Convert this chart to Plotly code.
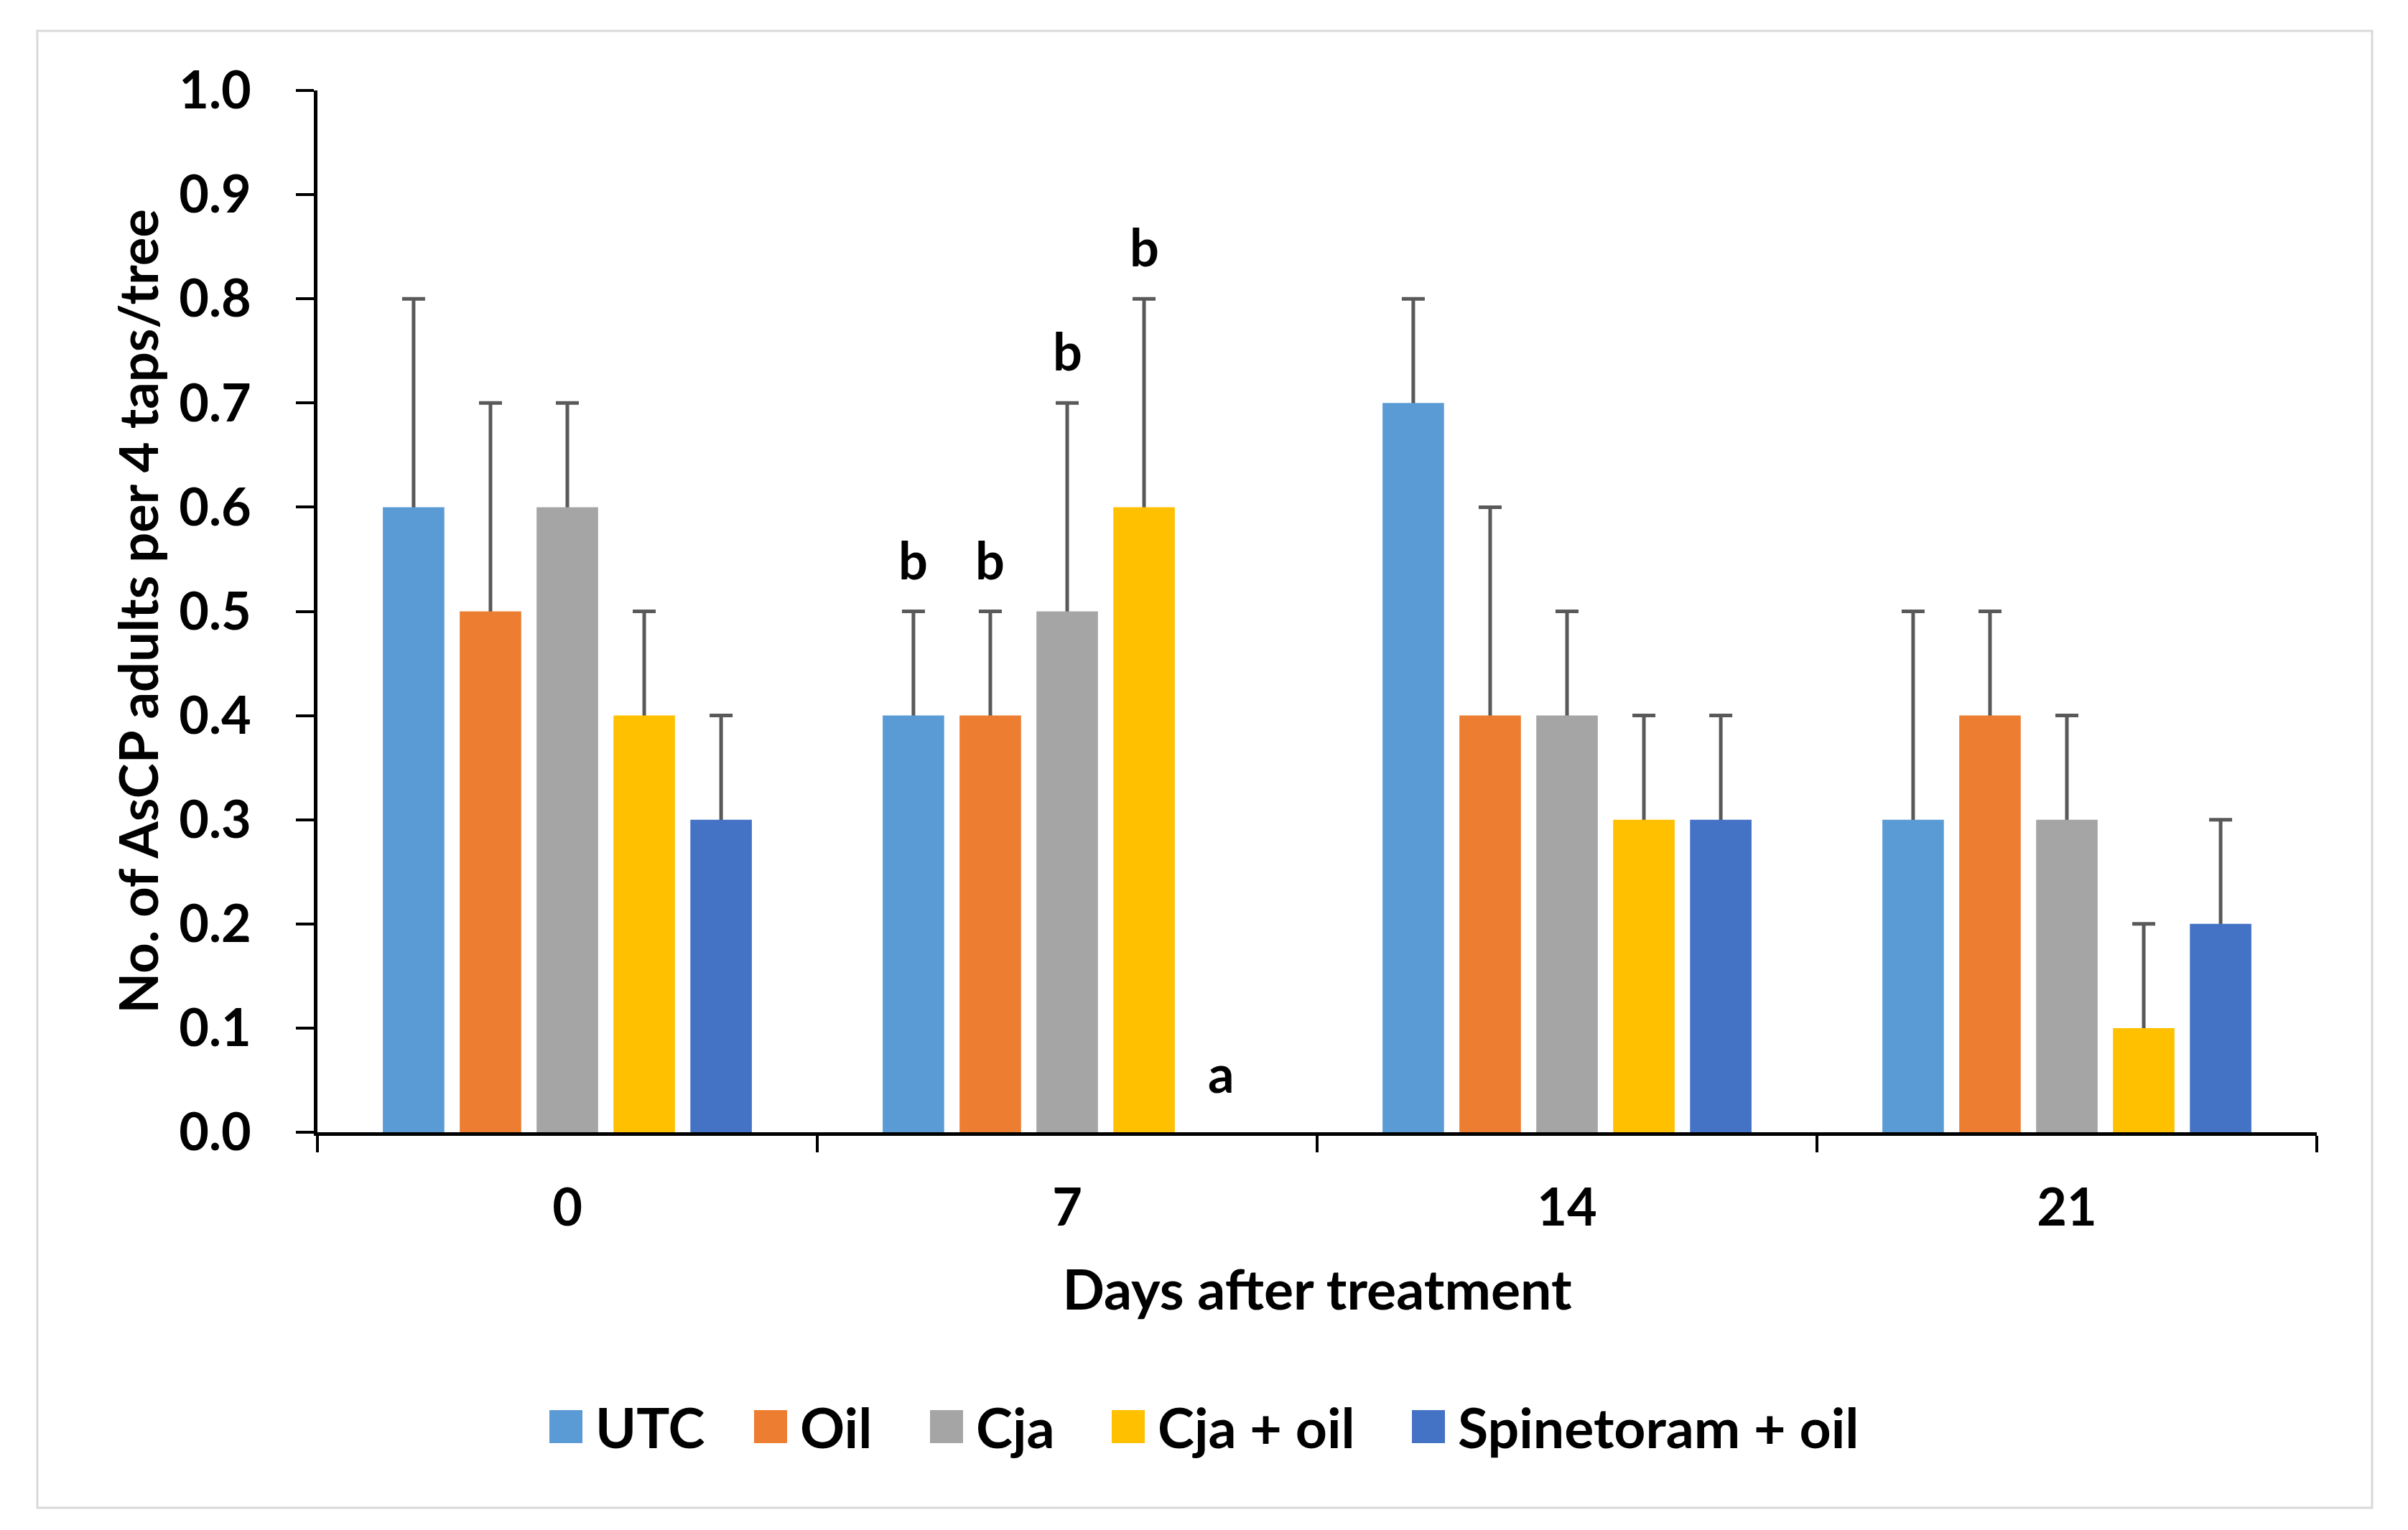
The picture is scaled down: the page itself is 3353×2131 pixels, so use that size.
import plotly.graph_objects as go

# ---------------- data ----------------
days = ["0", "7", "14", "21"]
series_names = ["UTC", "Oil", "Cja", "Cja + oil", "Spinetoram + oil"]

utc = [0.6, 0.4, 0.7, 0.3]
oil = [0.5, 0.4, 0.4, 0.4]
cja = [0.6, 0.5, 0.4, 0.3]
cja_oil = [0.4, 0.6, 0.3, 0.1]
spin_oil = [0.3, 0.0, 0.3, 0.2]

utc_err = [0.2, 0.1, 0.1, 0.2]
oil_err = [0.2, 0.1, 0.2, 0.1]
cja_err = [0.1, 0.2, 0.1, 0.1]
cja_oil_err = [0.1, 0.2, 0.1, 0.1]
spin_oil_err = [0.1, None, 0.1, 0.1]

utc_letters = ["", "b", "", ""]
oil_letters = ["", "b", "", ""]
cja_letters = ["", "b", "", ""]
cja_oil_letters = ["", "b", "", ""]
spin_oil_letters = ["", "a", "", ""]

y_tick_values = [0.0, 0.1, 0.2, 0.3, 0.4, 0.5, 0.6, 0.7, 0.8, 0.9, 1.0]

# ---------------- style ----------------
colors = ["#5B9BD5", "#ED7D31", "#A5A5A5", "#FFC000", "#4472C4"]
ERR_COLOR = "#595959"
FONT = "Lato"
FS = 72        # tick labels / letters
FS_T = 77      # x title / legend
FS_Y = 74      # y title
OFF = 8        # default page body margin
W, H = 3353 - 2 * OFF, 2131 - 2 * OFF
ML, MR, MT, MB = 442 - OFF, 127 - OFF, 126 - OFF, 554 - OFF
PW = W - ML - MR
PH = H - MT - MB
BARGAP = 0.231

values = [utc, oil, cja, cja_oil, spin_oil]
errors = [utc_err, oil_err, cja_err, cja_oil_err, spin_oil_err]
letters = [utc_letters, oil_letters, cja_letters, cja_oil_letters, spin_oil_letters]


def pxx(px):
    # page pixel -> paper x
    return (px - OFF - ML) / PW


def pxy(py):
    # page pixel -> paper y
    return (H - MB - (py - OFF)) / PH


fig = go.Figure()

# error-bar carrier traces (drawn first so that the visible bars cover the lower part)
for i, (vals, errs) in enumerate(zip(values, errors)):
    ys = [v if e is not None else None for v, e in zip(vals, errs)]
    fig.add_trace(go.Bar(
        x=days, y=ys, offsetgroup=str(i),
        marker=dict(color="rgba(0,0,0,0)", line=dict(width=0)),
        showlegend=False, hoverinfo="skip",
        error_y=dict(type="data", symmetric=False,
                     array=[e if e is not None else 0 for e in errs],
                     arrayminus=[v if v is not None else 0 for v in ys],
                     color=ERR_COLOR, thickness=5, width=16),
    ))

# visible bars
for i, (name, vals) in enumerate(zip(series_names, values)):
    fig.add_trace(go.Bar(
        x=days, y=vals, name=name, offsetgroup=str(i),
        marker=dict(color=colors[i], line=dict(width=0)),
        showlegend=False,
    ))

# significance letters
slot = (1 - BARGAP) / len(series_names)
annotations = []
for i, (vals, errs, lets) in enumerate(zip(values, errors, letters)):
    for j, lt in enumerate(lets):
        if not lt:
            continue
        top = vals[j] + (errs[j] if errs[j] is not None else 0)
        annotations.append(dict(
            x=j + (i - (len(series_names) - 1) / 2) * slot, y=top,
            xref="x", yref="y", text=lt, showarrow=False,
            xanchor="center", yanchor="bottom",
            yshift=28 if top > 0 else 38,
            font=dict(family=FONT, size=FS, color="black", weight="bold"),
        ))

# manual legend (large square swatches)
legend_left_px = [765, 1050, 1295, 1548, 1966]
legend_y = pxy(1987)
shapes = []
for i, name in enumerate(series_names):
    shapes.append(dict(
        type="rect", xref="paper", yref="paper",
        xsizemode="pixel", ysizemode="pixel",
        xanchor=pxx(legend_left_px[i]), yanchor=legend_y,
        x0=0, x1=46, y0=-23, y1=23,
        fillcolor=colors[i], line=dict(width=0),
    ))
    annotations.append(dict(
        x=pxx(legend_left_px[i] + 62), y=legend_y, xref="paper", yref="paper",
        text=name, showarrow=False, xanchor="left", yanchor="middle",
        font=dict(family=FONT, size=FS_T, color="black", weight="bold"),
    ))

# outer chart border
shapes.append(dict(
    type="rect", xref="paper", yref="paper",
    x0=pxx(52), x1=pxx(3303), y0=pxy(2100), y1=pxy(43),
    line=dict(color="#D9D9D9", width=3), fillcolor="rgba(0,0,0,0)", layer="below",
))

tickfont = dict(family=FONT, size=FS, color="black", weight="bold")

fig.update_layout(
    width=W, height=H,
    margin=dict(l=ML, r=MR, t=MT, b=MB, autoexpand=False),
    paper_bgcolor="white", plot_bgcolor="white",
    barmode="group", bargap=BARGAP, bargroupgap=0.2,
    showlegend=False,
    annotations=annotations, shapes=shapes,
    xaxis=dict(
        type="category", tickson="boundaries",
        ticks="outside", ticklen=23, tickwidth=4, tickcolor="black",
        showline=True, linewidth=4.5, linecolor="black",
        showgrid=False, zeroline=False,
        tickfont=tickfont, ticklabelstandoff=39,
        title=dict(text="Days after treatment", standoff=50,
                   font=dict(family=FONT, size=FS_T, color="black", weight="bold")),
    ),
    yaxis=dict(
        range=[0, 1], tickvals=y_tick_values, tickformat=".1f",
        ticks="outside", ticklen=25, tickwidth=4, tickcolor="black",
        showline=True, linewidth=4.5, linecolor="black",
        showgrid=False, zeroline=False,
        tickfont=tickfont, ticklabelstandoff=48,
        title=dict(text="No. of AsCP adults per 4 taps/tree", standoff=6,
                   font=dict(family=FONT, size=FS_Y, color="black", weight="bold")),
    ),
)

fig.write_html("out.html")
